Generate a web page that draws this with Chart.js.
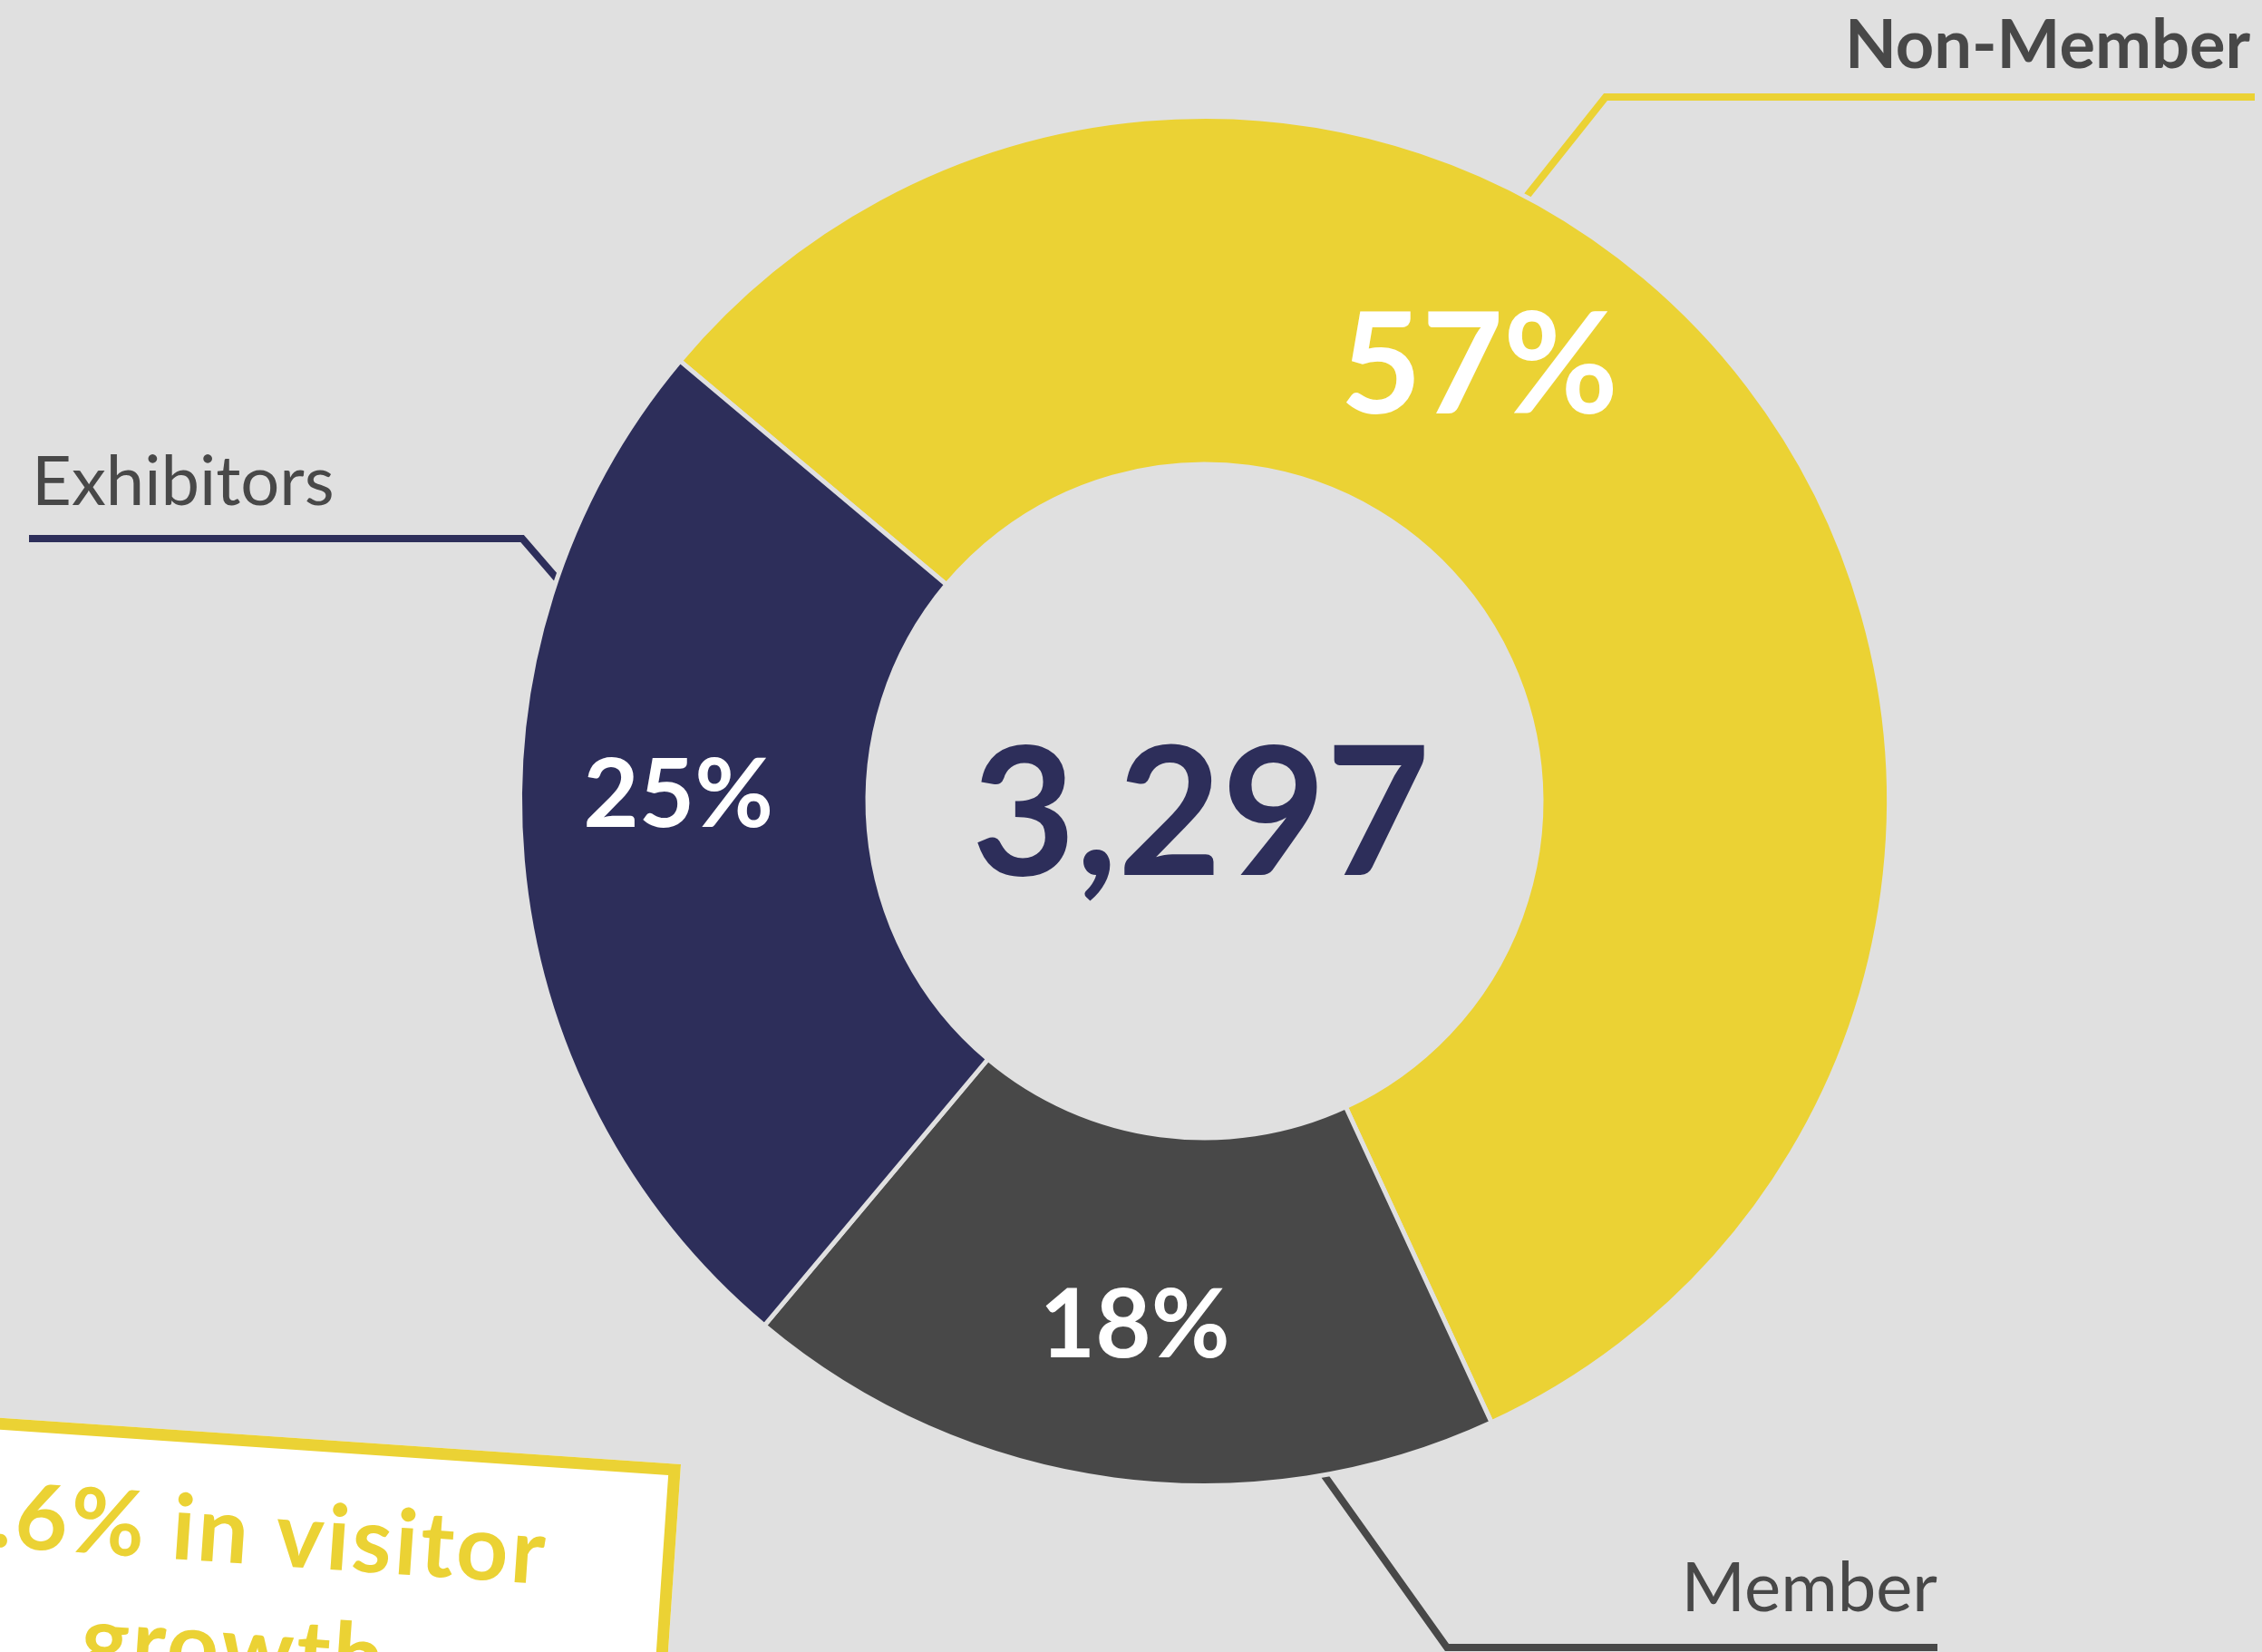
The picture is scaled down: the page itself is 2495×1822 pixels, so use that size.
<!DOCTYPE html>
<html>
<head>
<meta charset="utf-8">
<title>Visitors 3,297</title>
<script src="https://cdn.jsdelivr.net/npm/chart.js@4.4.1/dist/chart.umd.min.js"></script>
<style>
html, body { margin: 0; padding: 0; background: #e0e0e0; }
#wrap { position: relative; width: 2495px; height: 1822px; overflow: hidden; }
</style>
</head>
<body>
<div id="wrap"><canvas id="visitorChart"></canvas></div>
<script>
// data
var categories = ["Non-Member", "Member", "Exhibitors"];
var shares = [57, 18, 25];
var shareLabels = ["57%", "18%", "25%"];
var totalVisitors = "3,297";
var growthLines = ["4.6% in visitor", "growth"];

var YELLOW = '#ebd234', GRAY = '#484848', NAVY = '#2d2e5a', BG = '#e0e0e0';
var sliceColors = [YELLOW, GRAY, NAVY];
var FONT = 'Lato, "Open Sans", sans-serif';

// where the % text sits inside each slice: t = fraction along the arc, r = fraction of ring depth
var labelSpots = [{ t: 0.40, r: 0.52, size: 155 }, { t: 0.50, r: 0.545, size: 106 }, { t: 0.566, r: 0.545, size: 106 }];

// leader lines + category names (angle clockwise from top, degrees)
var callouts = [
  { angle: 27.9, elbow: [1771, 107], endX: 2487, textX: 2482, textY: 75, align: 'right', weight: 'bold' },
  { angle: 170.3, elbow: [1596, 1817], endX: 2137, textX: 2137, textY: 1777, align: 'right', weight: 'normal' },
  { angle: 288.5, elbow: [576, 594], endX: 32, textX: 35, textY: 557, align: 'left', weight: 'normal' }
];

function polar(cx, cy, deg, r) {
  var a = (deg - 90) * Math.PI / 180;
  return [cx + r * Math.cos(a), cy + r * Math.sin(a)];
}

var decorPlugin = {
  id: 'decor',
  beforeDatasetsDraw: function(chart) {
    var ctx = chart.ctx;
    var arc = chart.getDatasetMeta(0).data[0];
    ctx.save();
    ctx.lineWidth = 8;
    ctx.lineJoin = 'miter';
    callouts.forEach(function(c, i) {
      var p = polar(arc.x, arc.y, c.angle, arc.outerRadius - 10);
      ctx.strokeStyle = sliceColors[i];
      ctx.beginPath();
      ctx.moveTo(p[0], p[1]);
      ctx.lineTo(c.elbow[0], c.elbow[1]);
      ctx.lineTo(c.endX, c.elbow[1]);
      ctx.stroke();
    });
    ctx.restore();
  },
  afterDatasetsDraw: function(chart) {
    var ctx = chart.ctx;
    var arcs = chart.getDatasetMeta(0).data;
    ctx.save();
    // percentages
    ctx.fillStyle = '#ffffff';
    ctx.textAlign = 'center';
    ctx.textBaseline = 'alphabetic';
    arcs.forEach(function(a, i) {
      var s = labelSpots[i];
      var ang = a.startAngle + (a.endAngle - a.startAngle) * s.t;
      var rr = a.innerRadius + (a.outerRadius - a.innerRadius) * s.r;
      var x = a.x + rr * Math.cos(ang), y = a.y + rr * Math.sin(ang);
      ctx.font = 'bold ' + s.size + 'px ' + FONT;
      ctx.fillText(shareLabels[i], x, y + s.size * 0.36);
    });
    // total in the hole
    ctx.fillStyle = NAVY;
    ctx.font = 'bold 198px ' + FONT;
    ctx.fillText(totalVisitors, arcs[0].x - 4, arcs[0].y + 81);
    // category names
    ctx.fillStyle = GRAY;
    callouts.forEach(function(c, i) {
      ctx.font = c.weight + ' ' + (c.weight === 'bold' ? 74 : 76) + 'px ' + FONT;
      ctx.textAlign = c.align;
      ctx.fillText(categories[i], c.textX, c.textY);
    });
    ctx.restore();

    // tilted growth note, bottom left
    var W = 956, H = 520;
    ctx.save();
    ctx.translate(751, 1615);
    ctx.rotate(3.9 * Math.PI / 180);
    ctx.fillStyle = '#ffffff';
    ctx.fillRect(-W, 0, W, H);
    ctx.strokeStyle = YELLOW;
    ctx.lineWidth = 13;
    ctx.strokeRect(-W + 6.5, 6.5, W - 13, H);
    ctx.fillStyle = YELLOW;
    ctx.font = 'bold 100px ' + FONT;
    ctx.letterSpacing = '3px';
    ctx.textAlign = 'center';
    ctx.fillText(growthLines[0], -W / 2, 142);
    ctx.fillText(growthLines[1], -W / 2, 271);
    ctx.restore();
  }
};

var ctx = document.getElementById('visitorChart').getContext('2d');
var visitorChart = new Chart(ctx, {
  type: 'doughnut',
  data: {
    labels: categories,
    datasets: [{
      data: shares,
      backgroundColor: sliceColors,
      borderColor: BG,
      borderWidth: 5,
      hoverOffset: 0
    }]
  },
  options: {
    responsive: true,
    maintainAspectRatio: false,
    animation: false,
    events: [],
    rotation: -50,
    cutout: '49.2%',
    layout: { padding: { left: 571, right: 409, top: 126, bottom: 181 } },
    plugins: { legend: { display: false }, tooltip: { enabled: false } }
  },
  plugins: [decorPlugin]
});
</script>
</body>
</html>
